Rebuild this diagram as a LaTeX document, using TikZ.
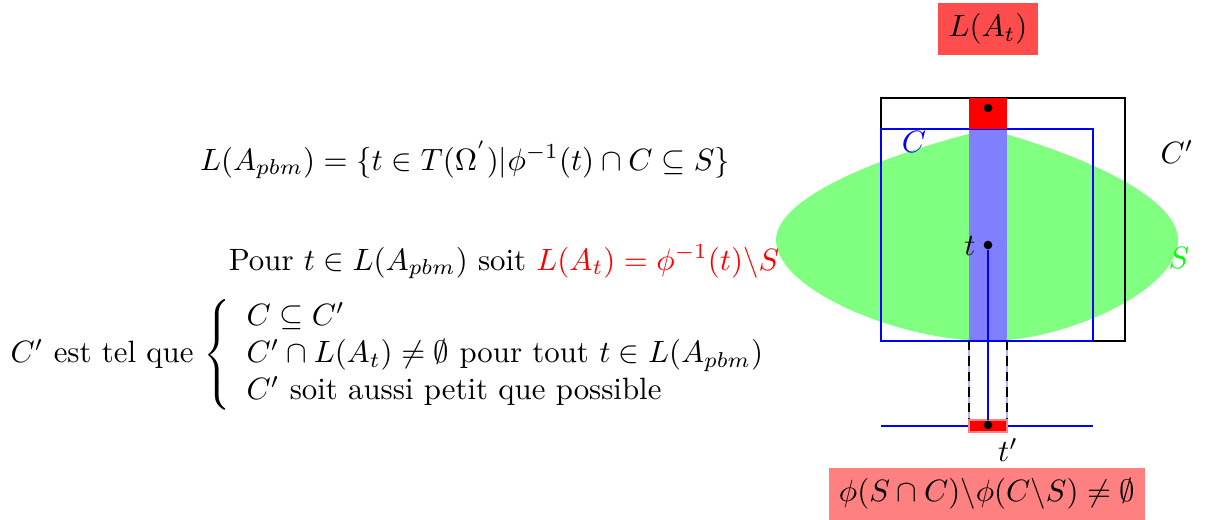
\documentclass[tikz,border=0pt]{standalone}
\usepackage{amsmath,amssymb}
\begin{document}
\begin{tikzpicture}[x=0.0114cm,y=-0.0114cm,
  txt/.style={inner sep=0pt},
  dot/.style={circle, fill=black, inner sep=0pt, minimum size=2.8pt},
  lbl/.style={inner sep=0pt},
  box/.style={inner sep=3.33pt}]
\useasboundingbox (0,0) rectangle (1213,520);
% set S
\fill[green!50] (988,129) .. controls (870,158) and (776,200) .. (776,240)
  .. controls (776,290) and (900,341) .. (988,341)
  .. controls (1067,341) and (1178,290) .. (1178,240)
  .. controls (1178,200) and (1094,158) .. (988,129) -- cycle;
% band
\fill[blue!50] (969,129) rectangle (1007,341);
% C' and C
\draw[black, line width=0.4pt] (881,98) rectangle (1125,341);
\draw[blue, line width=0.4pt] (881,129) rectangle (1093,341);
% red top
\fill[red] (969,98) rectangle (1007,129);
% dashed projection
\draw[blue!30, line width=0.4pt] (969,341) -- (969,422) (1007,341) -- (1007,422);
\draw[black, thick, dash pattern=on 3pt off 2pt] (969,341) -- (969,422);
\draw[black, thick, dash pattern=on 3pt off 2pt] (1007,341) -- (1007,422);
% T line
\coordinate (la) at (881,426);
\coordinate (lb) at (1093,426);
\draw[blue, thick] (la) -- (lb);
\fill[red, draw=red!50, line width=0.4pt] (969,420) rectangle (1007,432);
% points
\node[dot] (top) at (988,108) {};
\node[dot] (t) at (988,245) {};
\node[dot] (tp) at (988,425) {};
\draw[blue, thick] (t) -- (tp);
% labels
\node[lbl, blue] (Clbl) at (914,142) {$C$};
\node[lbl] (Cplbl) at (1177,152) {$C'$};
\node[lbl, green] (Slbl) at (1179,258) {$S$};
\node[lbl, anchor=east] (tlbl) at (976,246) {$t$};
\node[lbl] (tplbl) at (1008,450) {$t'$};
\node[box, fill=red!70] (LAt) at (988,29) {$L(A_t)$};
\node[box, fill=red!50] (phi) at (987,494) {$\phi(S\cap C)\backslash\phi(C\backslash S)\neq\emptyset$};
% left texts
\node[txt] (eq) at (465,160) {$L(A_{pbm})=\{t\in T(\Omega^{'})|\phi^{-1}(t)\cap C\subseteq S\}$};
\node[txt] (pour) at (504,262) {Pour $t\in L(A_{pbm})$ soit \textcolor{red}{$L(A_t)=\phi^{-1}(t)\backslash S$}};
\node[txt, anchor=west] (cond) at (10,355) {$C'$ est tel que $\left\{\begin{array}{l}
  C\subseteq C'\\
  C'\cap L(A_t)\neq\emptyset \text{ pour tout } t\in L(A_{pbm})\\
  C' \text{ soit aussi petit que possible}
\end{array}\right.$};
\end{tikzpicture}
\end{document}
